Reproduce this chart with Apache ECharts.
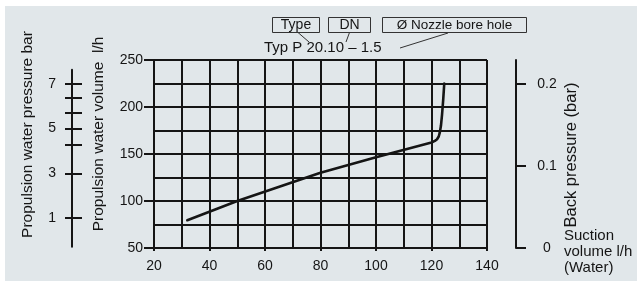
<!DOCTYPE html>
<html>
<head>
<meta charset="utf-8">
<script src="https://cdn.jsdelivr.net/npm/echarts@6/dist/echarts.min.js"></script>
<style>
  html, body { margin: 0; padding: 0; background: #ffffff; }
  #chart { width: 637px; height: 281px; }
</style>
</head>
<body>
<div id="chart"></div>
<script>
// ---- data ----
const suctionVolume    = [32, 50, 80, 100, 120, 121.2, 122, 122.6, 123, 123.4, 123.8, 124.2, 124.6];
const propulsionVolume = [79.5, 100, 130, 146.5, 162.2, 163.9, 165.7, 168.6, 173, 180, 192, 207, 225];
const pressureTicks    = [1, 3, 4.3, 5, 5.7, 6.4, 7];
const pressureLabels   = [1, 3, 5, 7];
const backPressureTicks = [0, 0.1, 0.2];
const typeLabel = 'Typ P 20.10 \u2013 1.5';
const boxLabels = ['Type', 'DN', '\u00D8 Nozzle bore hole'];

const FONT = "'Liberation Sans', Arial, Helvetica, sans-serif";
const INK = '#151515';
const BG = '#e1e7ea';
const lineStyle = { color: INK, width: 2 };

const chart = echarts.init(document.getElementById('chart'), null, { renderer: 'canvas' });

const seriesData = suctionVolume.map((x, i) => [x, propulsionVolume[i]]);

const option = {
  animation: false,
  backgroundColor: '#ffffff',
  textStyle: { fontFamily: FONT, color: INK },
  grid: [
    { left: 154, right: 150, top: 60, bottom: 33 },
    { left: 72, width: 10, top: 69.7, bottom: 34.3 }
  ],
  xAxis: [
    {
      gridIndex: 0, type: 'value', min: 20, max: 140, interval: 20,
      axisLine: { show: true, onZero: false, lineStyle: lineStyle },
      axisTick: { show: true, length: 3, lineStyle: lineStyle },
      minorTick: { show: false, splitNumber: 2 },
      axisLabel: { margin: 11, fontSize: 14, color: INK, fontFamily: FONT },
      splitLine: { show: true, lineStyle: lineStyle },
      minorSplitLine: { show: true, lineStyle: lineStyle }
    },
    { gridIndex: 1, type: 'value', min: 0, max: 1, show: false }
  ],
  yAxis: [
    {
      gridIndex: 0, type: 'value', min: 50, max: 250, interval: 50, position: 'left',
      axisLine: { show: true, onZero: false, lineStyle: lineStyle },
      axisTick: { show: true, length: 10, lineStyle: lineStyle },
      minorTick: { show: false, splitNumber: 2 },
      axisLabel: { margin: 11, fontSize: 14, color: INK, fontFamily: FONT },
      splitLine: { show: true, lineStyle: lineStyle },
      minorSplitLine: { show: true, lineStyle: lineStyle }
    },
    {
      gridIndex: 0, type: 'value', min: 0, max: 0.2294, position: 'right', offset: 29,
      axisLine: { show: true, onZero: false, lineStyle: lineStyle },
      axisTick: { show: true, length: 10, lineStyle: lineStyle, customValues: backPressureTicks },
      axisLabel: {
        margin: 31, align: 'center', fontSize: 14, color: INK, fontFamily: FONT,
        customValues: backPressureTicks,
        formatter: v => (v === 0 ? '0' : v.toFixed(1))
      },
      splitLine: { show: false }
    },
    {
      gridIndex: 1, type: 'value', min: -0.27, max: 7.63, position: 'left',
      axisLine: { show: true, onZero: false, lineStyle: lineStyle },
      axisTick: { show: true, length: 7, lineStyle: lineStyle, customValues: pressureTicks },
      axisLabel: { margin: 16, fontSize: 14, color: INK, fontFamily: FONT, customValues: pressureLabels },
      splitLine: { show: false }
    },
    {
      gridIndex: 1, type: 'value', min: -0.27, max: 7.63, position: 'left',
      axisLine: { show: false },
      axisTick: { show: true, inside: true, length: 10, lineStyle: lineStyle, customValues: pressureTicks },
      axisLabel: { show: false },
      splitLine: { show: false }
    }
  ],
  series: [
    {
      type: 'line', xAxisIndex: 0, yAxisIndex: 0,
      data: seriesData,
      symbol: 'none', smooth: false,
      lineStyle: { color: INK, width: 2.6, join: 'round', cap: 'round' },
      z: 5
    }
  ],
  graphic: [
    { type: 'rect', z: -100, silent: true, shape: { x: 5, y: 6, width: 632, height: 275 }, style: { fill: BG } },
    // axis names
    { type: 'text', x: 27.5, y: 134.5, rotation: Math.PI / 2,
      style: { text: 'Propulsion water pressure bar', font: '15.5px ' + FONT, fill: INK, align: 'center', verticalAlign: 'middle' } },
    { type: 'text', x: 99, y: 134, rotation: Math.PI / 2,
      style: { text: 'Propulsion water volume  l/h', font: '15.5px ' + FONT, fill: INK, align: 'center', verticalAlign: 'middle' } },
    { type: 'text', x: 571, y: 155, rotation: Math.PI / 2,
      style: { text: 'Back pressure (bar)', font: '16.5px ' + FONT, fill: INK, align: 'center', verticalAlign: 'middle' } },
    { type: 'text', x: 564, y: 228,
      style: { text: 'Suction\nvolume l/h\n(Water)', font: '15px ' + FONT, lineHeight: 16, fill: INK, align: 'left', verticalAlign: 'top' } },
    // annotation boxes
    { type: 'rect', shape: { x: 272.5, y: 17.5, width: 47, height: 15 }, style: { fill: 'none', stroke: '#333', lineWidth: 1 } },
    { type: 'rect', shape: { x: 328.5, y: 17.5, width: 42, height: 15 }, style: { fill: 'none', stroke: '#333', lineWidth: 1 } },
    { type: 'rect', shape: { x: 382.5, y: 17.5, width: 144, height: 15 }, style: { fill: 'none', stroke: '#333', lineWidth: 1 } },
    { type: 'text', x: 296, y: 25.5, style: { text: boxLabels[0], font: '14px ' + FONT, fill: INK, align: 'center', verticalAlign: 'middle' } },
    { type: 'text', x: 349.5, y: 25.5, style: { text: boxLabels[1], font: '14px ' + FONT, fill: INK, align: 'center', verticalAlign: 'middle' } },
    { type: 'text', x: 454.5, y: 25.5, style: { text: boxLabels[2], font: '13.5px ' + FONT, fill: INK, align: 'center', verticalAlign: 'middle' } },
    { type: 'text', x: 264, y: 48, style: { text: typeLabel, font: '15px ' + FONT, fill: INK, align: 'left', verticalAlign: 'middle' } },
    // leader lines
    { type: 'line', shape: { x1: 298, y1: 32.5, x2: 309, y2: 42 }, style: { stroke: '#333', lineWidth: 1 } },
    { type: 'line', shape: { x1: 349.5, y1: 32.5, x2: 346, y2: 42 }, style: { stroke: '#333', lineWidth: 1 } },
    { type: 'line', shape: { x1: 448, y1: 33, x2: 400, y2: 48 }, style: { stroke: '#333', lineWidth: 1 } }
  ]
};

chart.setOption(option);
</script>
</body>
</html>
